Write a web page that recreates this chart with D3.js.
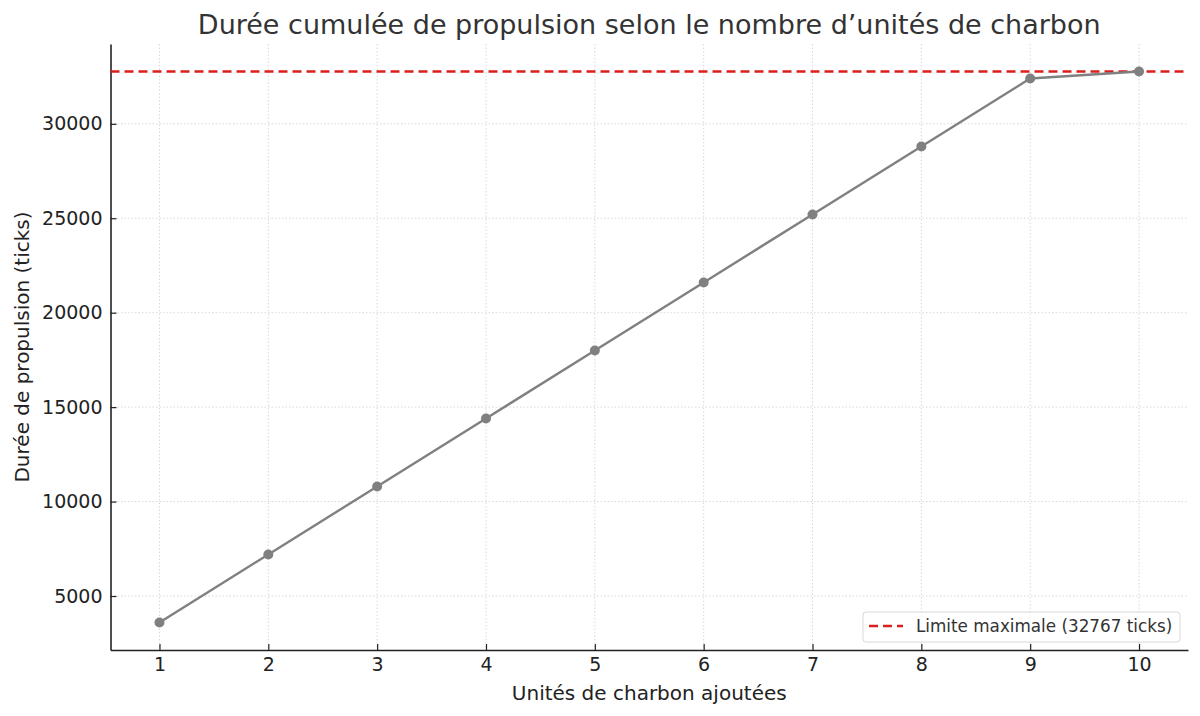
<!DOCTYPE html>
<html>
<head>
<meta charset="utf-8">
<script src="https://cdn.jsdelivr.net/npm/d3@7"></script>
<style>
  body { margin: 0; background: #fff; }
  svg { font-family: "DejaVu Sans", sans-serif; }
</style>
</head>
<body>
<div id="chart"></div>
<script>
const widthValue = 1200;
const heightValue = 716;
const margin = {top: 44, right: 12, bottom: 66, left: 110.5};

// data
const units = [1, 2, 3, 4, 5, 6, 7, 8, 9, 10];
const duration = [3600, 7200, 10800, 14400, 18000, 21600, 25200, 28800, 32400, 32767];
const maxLimit = 32767;
const yTicks = [5000, 10000, 15000, 20000, 25000, 30000];

const titleText = "Durée cumulée de propulsion selon le nombre d’unités de charbon";
const xLabel = "Unités de charbon ajoutées";
const yLabel = "Durée de propulsion (ticks)";
const legendText = "Limite maximale (" + maxLimit + " ticks)";

const svg = d3.select("#chart")
  .append("svg")
  .attr("width", widthValue)
  .attr("height", heightValue);

// matplotlib-like 5% padding
const xPad = (d3.max(units) - d3.min(units)) * 0.05;
const yMin = d3.min(duration), yMax = d3.max(duration.concat([maxLimit]));
const yPad = (yMax - yMin) * 0.05;

const x = d3.scaleLinear()
  .domain([d3.min(units) - xPad, d3.max(units) + xPad])
  .range([margin.left, widthValue - margin.right]);

const y = d3.scaleLinear()
  .domain([yMin - yPad, yMax + yPad])
  .range([heightValue - margin.bottom, margin.top]);

// grid
svg.append("g")
  .selectAll("line")
  .data(units)
  .join("line")
  .attr("x1", d => x(d)).attr("x2", d => x(d))
  .attr("y1", margin.top).attr("y2", heightValue - margin.bottom)
  .style("stroke", "#cfcfcf").style("stroke-width", 0.8)
  .style("stroke-dasharray", "1.5,2");

svg.append("g")
  .selectAll("line")
  .data(yTicks)
  .join("line")
  .attr("x1", margin.left).attr("x2", widthValue - margin.right)
  .attr("y1", d => y(d)).attr("y2", d => y(d))
  .style("stroke", "#cfcfcf").style("stroke-width", 0.8)
  .style("stroke-dasharray", "1.5,2");

// axes (inward ticks)
const xAxis = svg.append("g")
  .attr("transform", `translate(0,${heightValue - margin.bottom})`)
  .call(d3.axisBottom(x).tickValues(units).tickFormat(d3.format("d")).tickSize(-6).tickPadding(8).tickSizeOuter(0));

const yAxis = svg.append("g")
  .attr("transform", `translate(${margin.left},0)`)
  .call(d3.axisLeft(y).tickValues(yTicks).tickFormat(d3.format("d")).tickSize(-6).tickPadding(8).tickSizeOuter(0));

[xAxis, yAxis].forEach(a => {
  a.attr("font-size", 19).attr("font-family", "DejaVu Sans");
  a.select(".domain").style("stroke", "#222").style("stroke-width", 1.6);
  a.selectAll(".tick line").style("stroke", "#222").style("stroke-width", 1.2);
  a.selectAll(".tick text").style("fill", "#222");
});

// limit line
svg.append("line")
  .attr("x1", margin.left).attr("x2", widthValue - margin.right)
  .attr("y1", y(maxLimit)).attr("y2", y(maxLimit))
  .style("stroke", "#dc1e1e").style("stroke-width", 2.5)
  .style("stroke-dasharray", "9,5");

// series line
const line = d3.line()
  .x((d, i) => x(units[i]))
  .y(d => y(d));

svg.append("path")
  .datum(duration)
  .attr("d", line)
  .style("fill", "none")
  .style("stroke", "#808080")
  .style("stroke-width", 2.4);

svg.append("g")
  .selectAll("circle")
  .data(duration)
  .join("circle")
  .attr("cx", (d, i) => x(units[i]))
  .attr("cy", d => y(d))
  .attr("r", 5)
  .style("fill", "#808080");

// title & labels
svg.append("text")
  .attr("x", (margin.left + widthValue - margin.right) / 2)
  .attr("y", 34)
  .attr("text-anchor", "middle")
  .style("font-size", "27px")
  .style("fill", "#333")
  .text(titleText);

svg.append("text")
  .attr("x", (margin.left + widthValue - margin.right) / 2)
  .attr("y", 700)
  .attr("text-anchor", "middle")
  .style("font-size", "20px")
  .style("fill", "#222")
  .text(xLabel);

svg.append("text")
  .attr("transform", `translate(29,${(margin.top + heightValue - margin.bottom) / 2}) rotate(-90)`)
  .attr("text-anchor", "middle")
  .style("font-size", "20px")
  .style("fill", "#222")
  .text(yLabel);

// legend
const legend = svg.append("g").attr("transform", "translate(863,612)");
legend.append("rect")
  .attr("width", 317).attr("height", 30).attr("rx", 3)
  .style("fill", "#fff").style("fill-opacity", 0.8)
  .style("stroke", "#d8d8d8").style("stroke-width", 1);
legend.append("line")
  .attr("x1", 6).attr("x2", 40).attr("y1", 14).attr("y2", 14)
  .style("stroke", "#dc1e1e").style("stroke-width", 2.5)
  .style("stroke-dasharray", "9,5");
legend.append("text")
  .attr("x", 53).attr("y", 20)
  .style("font-size", "16.8px")
  .style("fill", "#333")
  .text(legendText);
</script>
</body>
</html>
